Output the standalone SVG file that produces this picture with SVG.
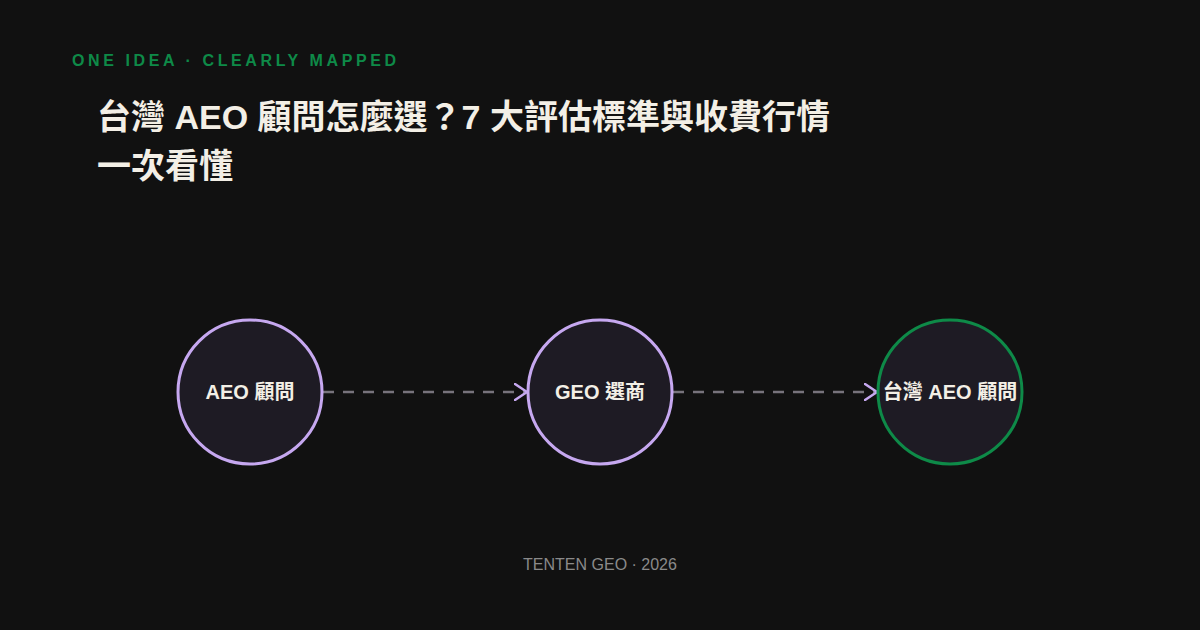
<svg xmlns="http://www.w3.org/2000/svg" width="1200" height="630" viewBox="0 0 1200 630">
<defs>
<style>
.kicker{font-family:"Liberation Sans","Noto Sans CJK TC",sans-serif;font-weight:700;font-size:16px;letter-spacing:3.6px;fill:#0e8a48}
.title{font-family:"Liberation Sans","Noto Sans CJK TC",sans-serif;font-weight:700;font-size:34px;fill:#f3efe6}
.label{font-family:"Liberation Sans","Noto Sans CJK TC",sans-serif;font-weight:700;font-size:20px;fill:#f3efe6;text-anchor:middle}
.foot{font-family:"Liberation Sans","Noto Sans CJK TC",sans-serif;font-size:16px;fill:#8a8a8a;text-anchor:middle}
.node{fill:#1e1b24;stroke-width:3}
.purple{stroke:#c6a8f0}
.green{stroke:#0e8a48}
.edge{stroke:#77737c;stroke-width:2.5;stroke-dasharray:11 9;fill:none}
</style>
<marker id="arrow" viewBox="0 0 14 18" refX="13" refY="9" markerWidth="14" markerHeight="18" markerUnits="userSpaceOnUse" orient="auto">
<path d="M1,1 L13,9 L1,17" fill="none" stroke="#c6a8f0" stroke-width="2.5" stroke-linecap="round" stroke-linejoin="round"/>
</marker>
</defs>
<rect width="1200" height="630" fill="#111111"/>
<text class="kicker" x="72" y="66">ONE IDEA · CLEARLY MAPPED</text>
<text class="title" x="97" y="129">台灣 AEO 顧問怎麼選？7 大評估標準與收費行情</text>
<text class="title" x="97" y="178">一次看懂</text>
<g id="connectors">
<line class="edge" x1="323" y1="392" x2="527" y2="392" marker-end="url(#arrow)"/>
<line class="edge" x1="673" y1="392" x2="877" y2="392" marker-end="url(#arrow)"/>
</g>
<g id="node-aeo">
<circle class="node purple" cx="250" cy="392" r="72"/>
<text class="label" x="250" y="399">AEO 顧問</text>
</g>
<g id="node-geo">
<circle class="node purple" cx="600" cy="392" r="72"/>
<text class="label" x="600" y="399">GEO 選商</text>
</g>
<g id="node-tw">
<circle class="node green" cx="950" cy="392" r="72"/>
<text class="label" x="950" y="399">台灣 AEO 顧問</text>
</g>
<text class="foot" x="600" y="570">TENTEN GEO · 2026</text>
</svg>
